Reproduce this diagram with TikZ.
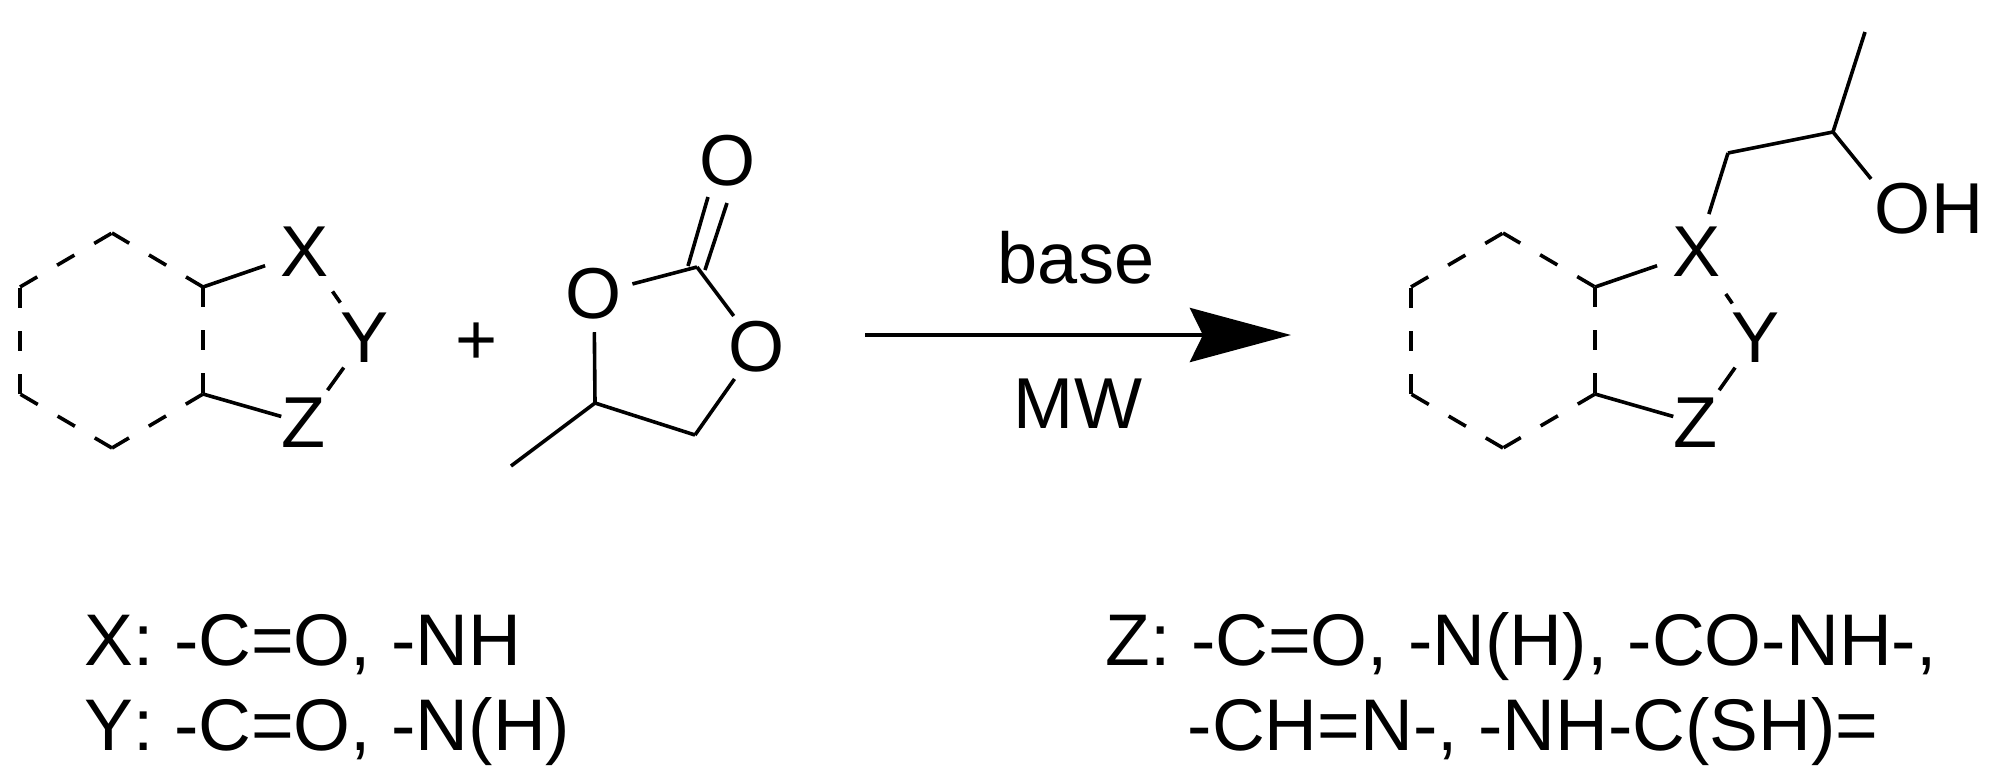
\documentclass[tikz,border=0pt]{standalone}
\usepackage{fontspec}
\setmainfont[Kerning=Off]{Liberation Sans}
\usetikzlibrary{arrows.meta}
\tikzset{bond/.style={line width=0.036cm},
         hexbond/.style={line width=0.036cm, dash pattern=on 0.2cm off 0.23cm},
         atom/.style={inner sep=0pt, font=\fontsize{20.5}{24}\selectfont},
         legend/.style={inner sep=0pt, anchor=base west, font=\fontsize{20.8}{24}\selectfont},
         cond/.style={atom, anchor=base},
         reaction/.style={line width=0.045cm, -{Stealth[length=1.01cm,width=0.54cm,inset=0.13cm]}}
}

\begin{document}
\begin{tikzpicture}[x=0.01cm,y=-0.01cm]
    \useasboundingbox (0,0) rectangle (1993,775);
            %        H1
            %  H6         H2 -- X
            %                     Y
            %  H5         H3 -- Z
            %        H4
        % starting material
        \coordinate (H1) at (112,233);
        \coordinate (H2) at (203,287);
        \coordinate (H3) at (203,394);
        \coordinate (H4) at (112,448);
        \coordinate (H5) at (20,394);
        \coordinate (H6) at (20,287);
        \node[atom] (X) at (305,252) {X};
        \node[atom] (Y) at (365,338) {Y};
        \node[atom] (Z) at (304,423) {Z};
        \path (H1) edge[hexbond] (H2)
              (H2) edge[hexbond] (H3)
              (H3) edge[hexbond] (H4)
              (H4) edge[hexbond] (H5)
              (H5) edge[hexbond] (H6)
              (H6) edge[hexbond] (H1);
        \path (H2) edge[bond, shorten >=0.16cm] (X)
              (H3) edge[bond] (Z)
              (X) edge[bond, shorten <=0.17cm, shorten >=0.12cm] (Y)
              (Y) edge[bond, shorten <=0.05cm, shorten >=0.09cm] (Z);
        \node[atom] (plus) at (477,344) {+};
        % propylene carbonate
        \node[atom] (Otop) at (728,161) {O};
        \node[atom] (Oleft) at (594,294) {O};
        \node[atom] (Oright) at (757,347) {O};
        \coordinate (C1) at (697,267);
        \coordinate (C2) at (595,403);
        \coordinate (C3) at (695,435);
        \coordinate (Me) at (511,466);
        \coordinate (Da) at (688,266);
        \coordinate (Db) at (708,197);
        \coordinate (Dc) at (705,270);
        \coordinate (Dd) at (727,203);
        \path (Da) edge[bond] (Db)
              (Dc) edge[bond] (Dd);
        \path (C1) edge[bond, shorten >=0.1cm] (Oleft)
              (C1) edge[bond, shorten >=0.06cm] (Oright)
              (Oleft) edge[bond, shorten <=0.12cm] (C2)
              (C2) edge[bond] (C3)
              (C3) edge[bond, shorten >=0.07cm] (Oright)
              (C2) edge[bond] (Me);
        % arrow
        \coordinate (Astart) at (865,335);
        \coordinate (Aend) at (1291,335);
        \draw[reaction] (Astart) -- (Aend);
        \node[cond] (basetext) at (1076,283) {base};
        \node[cond] (mwtext) at (1078,428) {MW};
        % product
        \coordinate (P1) at (1503,233);
        \coordinate (P2) at (1595,287);
        \coordinate (P3) at (1595,394);
        \coordinate (P4) at (1503,448);
        \coordinate (P5) at (1411,394);
        \coordinate (P6) at (1411,287);
        \node[atom] (PX) at (1697,252) {X};
        \node[atom] (PY) at (1756,338) {Y};
        \node[atom] (PZ) at (1696,423) {Z};
        \node[atom] (OH) at (1929,209) {OH};
        \coordinate (Pa) at (1728,153);
        \coordinate (Pb) at (1833,132);
        \coordinate (Pc) at (1865,32);
        \path (P1) edge[hexbond] (P2)
              (P2) edge[hexbond] (P3)
              (P3) edge[hexbond] (P4)
              (P4) edge[hexbond] (P5)
              (P5) edge[hexbond] (P6)
              (P6) edge[hexbond] (P1);
        \path (P2) edge[bond, shorten >=0.16cm] (PX)
              (P3) edge[bond] (PZ)
              (PX) edge[bond, shorten <=0.2cm, shorten >=0.11cm] (PY)
              (PY) edge[bond, shorten <=0.05cm, shorten >=0.09cm] (PZ);
        \path (PX) edge[bond, shorten <=0.13cm] (Pa)
              (Pa) edge[bond] (Pb)
              (Pb) edge[bond] (Pc)
              (Pb) edge[bond, shorten >=0.05cm] (OH.north west);
        % legend
        \node[legend] (xline) at (84,665) {X: -C=O, -NH};
        \node[legend] (yline) at (84,750) {Y: -C=O, -N(H)};
        \node[legend] (zlinea) at (1105,665) {Z: -C=O, -N(H), -CO-NH-,};
        \node[legend] (zlineb) at (1187,750) {-CH=N-, -NH-C(SH)=};
\end{tikzpicture}
\end{document}
